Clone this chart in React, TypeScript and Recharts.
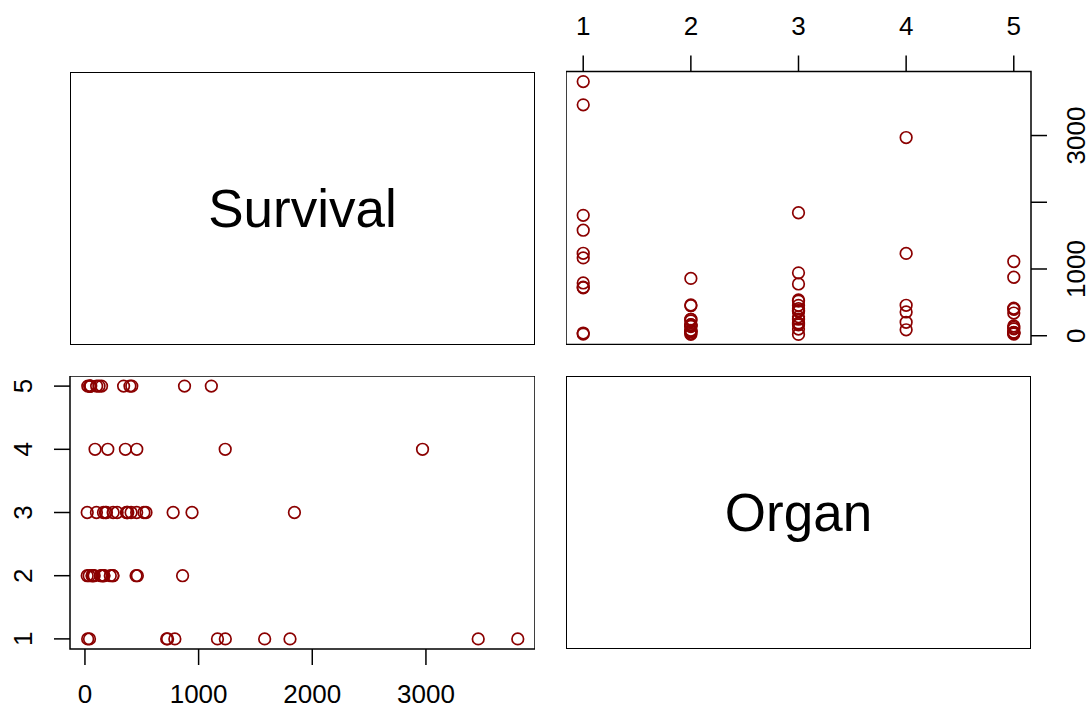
import React from 'react';
import { ScatterChart, Scatter, XAxis, YAxis, ReferenceArea } from 'recharts';

// survival days per organ (1 Breast, 2 Bronchus, 3 Colon, 4 Ovary, 5 Stomach)
const breast = [1235, 24, 1581, 1166, 40, 727, 3808, 791, 1804, 3460, 719];
const bronchus = [81, 461, 20, 450, 246, 166, 63, 64, 155, 859, 151, 166, 37, 223, 138, 72, 245];
const colon = [248, 377, 189, 1843, 180, 537, 519, 455, 406, 365, 942, 776, 372, 163, 101, 20, 283];
const ovary = [1234, 89, 201, 356, 2970, 456];
const stomach = [124, 42, 25, 45, 412, 51, 1112, 46, 103, 876, 146, 340, 396];

const organTicks = [1, 2, 3, 4, 5];
const survivalTicks = [0, 1000, 2000, 3000];
const survivalLabels = ['0', '1000', '', '3000']; // R drops the 2000 label on the side axis

const groups = [breast, bronchus, colon, ovary, stomach];
const points = groups.flatMap((g, i) => g.map((s) => ({ organ: i + 1, survival: s })));

const pad = (lo: number, hi: number) => {
  const d = (hi - lo) * 0.04;
  return [lo - d, hi + d] as [number, number];
};
const survDomain = pad(Math.min(...points.map((p) => p.survival)), Math.max(...points.map((p) => p.survival)));
const organDomain = pad(1, 5);

const FONT = '"Liberation Sans", Arial, Helvetica, sans-serif';
const RED = '#8B0000';
const W = 465;
const H = 273;
const LEFT = 70;
const RIGHT = 566;
const TOP = 71.5;
const BOTTOM = 376;
const TICK = 16;
const FS = 26;

const Ring = (props: any) => (
  <circle cx={props.cx} cy={props.cy} r={5.8} fill="none" stroke={RED} strokeWidth={1.7} />
);

const hTick = (dy: number, labels?: string[], values?: number[]) => (props: any) => {
  const v = props.payload.value;
  const txt = labels && values ? labels[values.indexOf(v)] : String(v);
  return (
    <text x={props.x} y={props.y + dy} dy={FS * 0.358} textAnchor="middle" fontSize={FS} fontFamily={FONT} fill="#000">
      {txt}
    </text>
  );
};

const vTick = (dx: number, labels?: string[], values?: number[]) => (props: any) => {
  const v = props.payload.value;
  const txt = labels && values ? labels[values.indexOf(v)] : String(v);
  if (!txt) return <g />;
  return (
    <text
      x={0}
      y={0}
      dy={FS * 0.358}
      textAnchor="middle"
      fontSize={FS}
      fontFamily={FONT}
      fill="#000"
      transform={`translate(${props.x + dx},${props.y}) rotate(-90)`}
    >
      {txt}
    </text>
  );
};

const axisStyle = { stroke: '#000', strokeWidth: 1.5 };

const LabelPanel = ({ x, y, text }: { x: number; y: number; text: string }) => (
  <div
    style={{
      position: 'absolute',
      left: x,
      top: y,
      width: W,
      height: H,
      border: '1.5px solid #000',
      boxSizing: 'border-box',
      display: 'flex',
      alignItems: 'center',
      justifyContent: 'center',
      fontFamily: FONT,
      fontSize: 53,
      color: '#000',
    }}
  >
    {text}
  </div>
);

export default function App() {
  return (
    <div style={{ position: 'absolute', left: 0, top: 0, width: 1092, height: 709, background: '#fff', overflow: 'hidden' }}>
      <LabelPanel x={LEFT} y={TOP} text="Survival" />
      <LabelPanel x={RIGHT} y={BOTTOM} text="Organ" />

      {/* top right: Organ vs Survival */}
      <div style={{ position: 'absolute', left: RIGHT, top: 0 }}>
        <ScatterChart width={W + 61} height={TOP + H} margin={{ top: 0, right: 0, bottom: 0, left: 0 }}>
          <XAxis
            xAxisId="o"
            type="number"
            dataKey="organ"
            orientation="top"
            height={TOP}
            domain={organDomain}
            ticks={organTicks}
            interval={0}
            axisLine={false}
            tickLine={axisStyle}
            tickSize={TICK}
            tickMargin={0}
            tick={hTick(-30)}
          />
          <YAxis
            yAxisId="s"
            type="number"
            dataKey="survival"
            orientation="right"
            width={61}
            domain={survDomain}
            ticks={survivalTicks}
            interval={0}
            axisLine={false}
            tickLine={axisStyle}
            tickSize={TICK}
            tickMargin={0}
            tick={vTick(29, survivalLabels, survivalTicks)}
          />
          <ReferenceArea
            xAxisId="o"
            yAxisId="s"
            x1={organDomain[0]}
            x2={organDomain[1]}
            y1={survDomain[0]}
            y2={survDomain[1]}
            fill="none"
            stroke="#000"
            strokeWidth={1.5}
            fillOpacity={0}
            ifOverflow="visible"
          />
          <Scatter xAxisId="o" yAxisId="s" data={points} shape={Ring} isAnimationActive={false} />
        </ScatterChart>
      </div>

      {/* bottom left: Survival vs Organ */}
      <div style={{ position: 'absolute', left: 0, top: BOTTOM }}>
        <ScatterChart width={LEFT + W} height={709 - BOTTOM} margin={{ top: 0, right: 0, bottom: 0, left: 0 }}>
          <XAxis
            xAxisId="s"
            type="number"
            dataKey="survival"
            orientation="bottom"
            height={709 - BOTTOM - H}
            domain={survDomain}
            ticks={survivalTicks}
            interval={0}
            axisLine={false}
            tickLine={axisStyle}
            tickSize={TICK}
            tickMargin={0}
            tick={hTick(29)}
          />
          <YAxis
            yAxisId="o"
            type="number"
            dataKey="organ"
            orientation="left"
            width={LEFT}
            domain={organDomain}
            ticks={organTicks}
            interval={0}
            axisLine={false}
            tickLine={axisStyle}
            tickSize={TICK}
            tickMargin={0}
            tick={vTick(-31.5)}
          />
          <ReferenceArea
            xAxisId="s"
            yAxisId="o"
            x1={survDomain[0]}
            x2={survDomain[1]}
            y1={organDomain[0]}
            y2={organDomain[1]}
            fill="none"
            stroke="#000"
            strokeWidth={1.5}
            fillOpacity={0}
            ifOverflow="visible"
          />
          <Scatter xAxisId="s" yAxisId="o" data={points} shape={Ring} isAnimationActive={false} />
        </ScatterChart>
      </div>
    </div>
  );
}
